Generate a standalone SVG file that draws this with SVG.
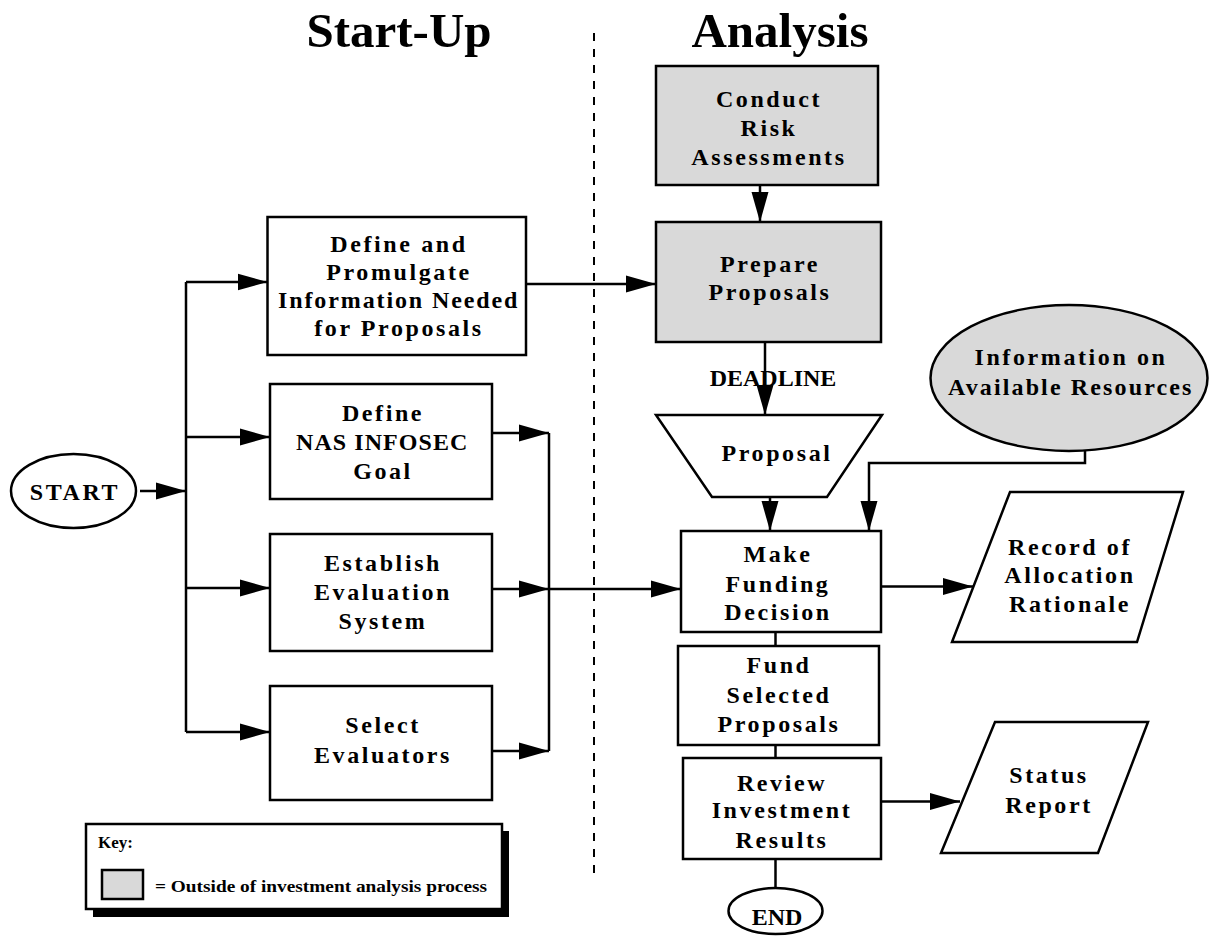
<svg xmlns="http://www.w3.org/2000/svg" width="1209" height="936" viewBox="0 0 1209 936">
<style>
  .shape { fill: #ffffff; stroke: #000000; stroke-width: 2.5; }
  .gray { fill: #d9d9d9; }
  .t { font-family: "Liberation Serif", "Times New Roman", serif; font-weight: bold; font-size: 24px; letter-spacing: 2.6px; text-anchor: middle; fill: #000; }
  .ns { letter-spacing: 0; }
  .title { font-family: "Liberation Serif", "Times New Roman", serif; font-weight: bold; font-size: 49px; text-anchor: middle; fill: #000; }
  .key { font-family: "Liberation Serif", "Times New Roman", serif; font-weight: bold; font-size: 17px; fill: #000; }
  .c { fill: none; stroke: #000; stroke-width: 2.5; }
  .ca { fill: none; stroke: #000; stroke-width: 2.5; marker-end: url(#ah); }
</style>
<defs>
  <marker id="ah" markerUnits="userSpaceOnUse" markerWidth="30" markerHeight="18" refX="30" refY="9" orient="auto">
    <path d="M0,0.5 L30,9 L0,17.5 z" fill="#000"/>
  </marker>
</defs>
<rect width="1209" height="936" fill="#ffffff"/>

<g id="titles">
  <text class="title" x="399" y="47">Start-Up</text>
  <text class="title" x="780" y="47">Analysis</text>
  <line x1="594" y1="33" x2="594" y2="873" stroke="#000" stroke-width="2" stroke-dasharray="8,8"/>
</g>

<g id="connectors">
  <line class="ca" x1="140" y1="491" x2="186" y2="491"/>
  <line class="c" x1="186" y1="282" x2="186" y2="732"/>
  <line class="ca" x1="186" y1="282" x2="267.5" y2="282"/>
  <line class="ca" x1="186" y1="437" x2="270" y2="437"/>
  <line class="ca" x1="186" y1="588" x2="270" y2="588"/>
  <line class="ca" x1="186" y1="732" x2="270" y2="732"/>
  <line class="ca" x1="492" y1="433" x2="549" y2="433"/>
  <line class="ca" x1="492" y1="589" x2="549" y2="589"/>
  <line class="ca" x1="492" y1="751" x2="549" y2="751"/>
  <line class="c" x1="549" y1="433" x2="549" y2="751"/>
  <line class="ca" x1="549" y1="589" x2="681" y2="589"/>
  <line class="ca" x1="526" y1="284" x2="656" y2="284"/>
  <line class="ca" x1="760" y1="185" x2="760" y2="222"/>
  <line class="ca" x1="765" y1="342" x2="765" y2="415"/>
  <line class="ca" x1="770" y1="497" x2="770" y2="531"/>
  <polyline class="ca" points="1085,450 1085,463 869,463 869,531"/>
  <line class="ca" x1="881" y1="586.5" x2="973" y2="586.5"/>
  <line class="c" x1="775.5" y1="632" x2="775.5" y2="646"/>
  <line class="c" x1="775.5" y1="745" x2="775.5" y2="758"/>
  <line class="ca" x1="881" y1="801.5" x2="960" y2="801.5"/>
  <line class="c" x1="775.5" y1="859" x2="775.5" y2="888"/>
  <text class="t ns" x="773" y="386">DEADLINE</text>
</g>

<g id="start">
  <ellipse class="shape" cx="73.5" cy="491" rx="62.5" ry="37"/>
  <text class="t" x="75" y="500">START</text>
</g>

<g id="define-promulgate">
  <rect class="shape" x="267.5" y="217" width="258.5" height="138"/>
  <text class="t" x="399" y="252">Define and</text>
  <text class="t" x="399" y="280">Promulgate</text>
  <text class="t" x="399" y="308" textLength="242">Information Needed</text>
  <text class="t" x="399" y="336">for Proposals</text>
</g>

<g id="define-goal">
  <rect class="shape" x="270" y="384" width="222" height="115"/>
  <text class="t" x="383" y="421">Define</text>
  <text class="t" x="383" y="450" textLength="174">NAS INFOSEC</text>
  <text class="t" x="383" y="479">Goal</text>
</g>

<g id="establish">
  <rect class="shape" x="270" y="534" width="222" height="117"/>
  <text class="t" x="383" y="571">Establish</text>
  <text class="t" x="383" y="600">Evaluation</text>
  <text class="t" x="383" y="629">System</text>
</g>

<g id="select">
  <rect class="shape" x="270" y="686" width="222" height="114"/>
  <text class="t" x="383" y="733">Select</text>
  <text class="t" x="383" y="763">Evaluators</text>
</g>

<g id="conduct">
  <rect class="shape gray" x="656" y="66" width="222" height="119"/>
  <text class="t" x="769" y="107">Conduct</text>
  <text class="t" x="769" y="136">Risk</text>
  <text class="t" x="769" y="165">Assessments</text>
</g>

<g id="prepare">
  <rect class="shape gray" x="656" y="222" width="225" height="120"/>
  <text class="t" x="770" y="272">Prepare</text>
  <text class="t" x="770" y="300">Proposals</text>
</g>

<g id="proposal">
  <polygon class="shape" points="656,415 882,415 827,497 712,497"/>
  <text class="t" x="777" y="461">Proposal</text>
</g>

<g id="info-resources">
  <ellipse class="shape gray" cx="1069" cy="378" rx="138.5" ry="73"/>
  <text class="t" x="1071" y="365">Information on</text>
  <text class="t" x="1071" y="395" textLength="246">Available Resources</text>
</g>

<g id="make-decision">
  <rect class="shape" x="681" y="531" width="200" height="101"/>
  <text class="t" x="778" y="562">Make</text>
  <text class="t" x="778" y="592">Funding</text>
  <text class="t" x="778" y="620">Decision</text>
</g>

<g id="record">
  <polygon class="shape" points="1010,492 1183,492 1137,642 952,642"/>
  <text class="t" x="1070" y="555">Record of</text>
  <text class="t" x="1070" y="583">Allocation</text>
  <text class="t" x="1070" y="612">Rationale</text>
</g>

<g id="fund">
  <rect class="shape" x="678" y="646" width="201" height="99"/>
  <text class="t" x="779" y="673">Fund</text>
  <text class="t" x="779" y="703">Selected</text>
  <text class="t" x="779" y="732">Proposals</text>
</g>

<g id="review">
  <rect class="shape" x="683" y="758" width="198" height="101"/>
  <text class="t" x="782" y="791">Review</text>
  <text class="t" x="782" y="818">Investment</text>
  <text class="t" x="782" y="848">Results</text>
</g>

<g id="status">
  <polygon class="shape" points="995,722 1148,722 1098,853 941,853"/>
  <text class="t" x="1049" y="783">Status</text>
  <text class="t" x="1049" y="813">Report</text>
</g>

<g id="end">
  <ellipse class="shape" cx="775.5" cy="911" rx="47" ry="23"/>
  <text class="t ns" x="777" y="925">END</text>
</g>

<g id="key">
  <rect x="93" y="831" width="416" height="86" fill="#000"/>
  <rect class="shape" x="86" y="824" width="416" height="85"/>
  <text class="key" x="98" y="848">Key:</text>
  <rect class="shape gray" x="102" y="870" width="41" height="29"/>
  <text class="key" x="155" y="892" textLength="332" lengthAdjust="spacingAndGlyphs">= Outside of investment analysis process</text>
</g>
</svg>
